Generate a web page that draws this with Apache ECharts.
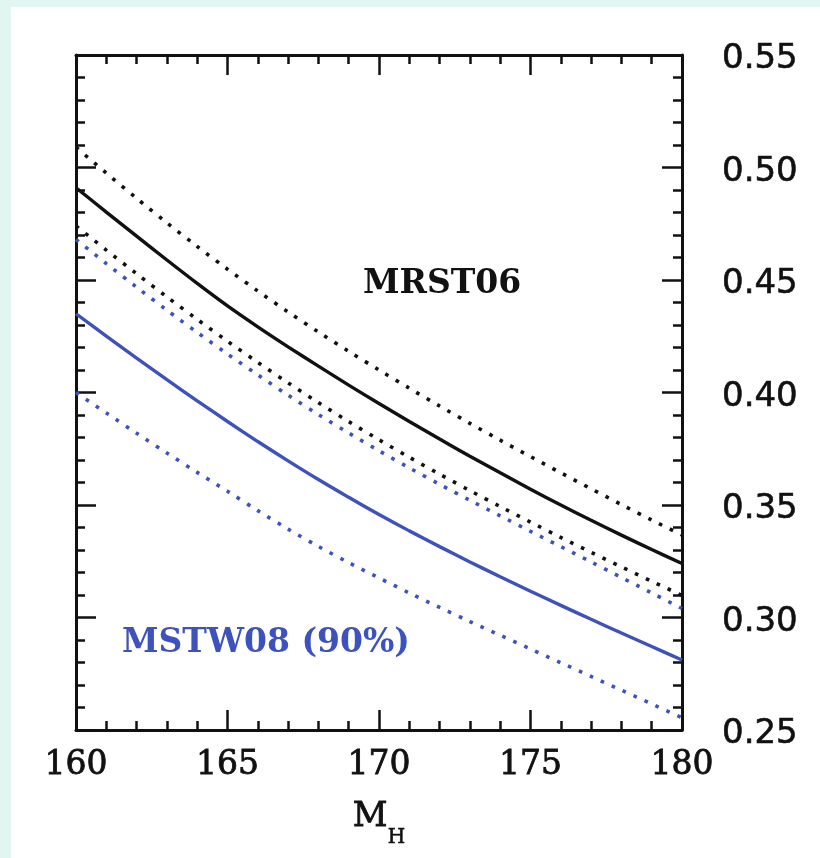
<!DOCTYPE html>
<html>
<head>
<meta charset="utf-8">
<script src="https://cdn.jsdelivr.net/npm/echarts@6/dist/echarts.min.js"></script>
<style>
  html, body { margin: 0; padding: 0; background: #e2f6f1; width: 820px; height: 858px; overflow: hidden; }
  #chart { position: absolute; left: 11px; top: 7px; width: 809px; height: 851px; background: #ffffff; }
</style>
</head>
<body>
<div id="chart"></div>
<script>
// Higgs mass M_H values (GeV)
const massH = [160,161,162,163,164,165,166,167,168,169,170,171,172,173,174,175,176,177,178,179,180];

// MRST06: central (solid) and error band (dotted)
const mrst06Central = [0.491,0.4802,0.4695,0.4589,0.4485,0.4385,0.4292,0.4203,0.4117,0.4033,0.3951,0.3871,0.3793,0.3717,0.3643,0.357,0.350,0.3432,0.3366,0.3302,0.324];
const mrst06Upper   = [0.509,0.4975,0.4863,0.4754,0.4649,0.4548,0.4451,0.4358,0.4269,0.4183,0.410,0.4019,0.394,0.3863,0.3788,0.3715,0.3643,0.3572,0.3502,0.3433,0.3367];
const mrst06Lower   = [0.474,0.4633,0.4528,0.4425,0.4325,0.4228,0.4134,0.4043,0.3955,0.3871,0.379,0.3712,0.3637,0.3564,0.3493,0.3424,0.3356,0.329,0.3225,0.3161,0.3098];

// MSTW08 (90%): central (solid) and error band (dotted)
const mstw08Central = [0.435,0.4251,0.4153,0.4057,0.3963,0.3871,0.3782,0.3696,0.3613,0.3534,0.3458,0.3385,0.3315,0.3247,0.3181,0.3117,0.3054,0.2992,0.2931,0.2871,0.2811];
const mstw08Upper   = [0.468,0.4573,0.4468,0.4366,0.4267,0.4171,0.4078,0.3988,0.3902,0.382,0.3741,0.3665,0.3592,0.3521,0.3452,0.3383,0.3315,0.3247,0.3178,0.3109,0.304];
const mstw08Lower   = [0.400,0.3909,0.3819,0.3731,0.3645,0.3561,0.3475,0.3393,0.3316,0.3244,0.3176,0.3109,0.3045,0.2982,0.2921,0.286,0.2799,0.2738,0.2677,0.2616,0.2555];

// Axis settings
const xMin = 160, xMax = 180, xStep = 5;
const yMin = 0.25, yMax = 0.55, yStep = 0.05;

// Text labels
const labelMRST = 'MRST06';
const labelMSTW = 'MSTW08 (90%)';

const BLACK = '#111111';
const BLUE = '#3d52bc';

function pairs(ys) { return massH.map((x, i) => [x, ys[i]]); }

const chart = echarts.init(document.getElementById('chart'), null, { renderer: 'canvas' });

const frameLine = { show: true, onZero: false, lineStyle: { color: BLACK, width: 3 } };
const majorTick = { show: true, inside: true, length: 20, lineStyle: { color: BLACK, width: 2.5 } };
const minorTick = { show: true, splitNumber: 5, length: 9, lineStyle: { color: BLACK, width: 2.5 } };

function dotted(color) { return { color: color, width: 3.6, type: [3.6, 8.4], cap: 'butt' }; }
function solid(color) { return { color: color, width: 3.4, type: 'solid' }; }

function lineSeries(name, ys, style) {
  return { type: 'line', name: name, data: pairs(ys), showSymbol: false, smooth: 0.3,
           lineStyle: style, z: 3 };
}

const option = {
  animation: false,
  backgroundColor: 'transparent',
  grid: { left: 65, right: 138, top: 48, bottom: 128, containLabel: false },
  xAxis: [
    {
      type: 'value', position: 'bottom', min: xMin, max: xMax, interval: xStep,
      axisLine: frameLine, axisTick: majorTick, minorTick: minorTick,
      splitLine: { show: false }, minorSplitLine: { show: false },
      axisLabel: { show: true, margin: 19, color: BLACK, fontFamily: 'DejaVu Serif', fontSize: 33,
        textBorderColor: BLACK, textBorderWidth: 0.8 },
      name: '{m|M}{h|H}', nameLocation: 'middle', nameGap: 70,
      nameTextStyle: {
        rich: {
          m: { fontFamily: 'DejaVu Serif', fontSize: 34, color: BLACK, verticalAlign: 'top', lineHeight: 36,
               textBorderColor: BLACK, textBorderWidth: 0.8 },
          h: { fontFamily: 'DejaVu Serif', fontSize: 20, color: BLACK, verticalAlign: 'top', lineHeight: 20,
               padding: [28, 0, 0, 0], textBorderColor: BLACK, textBorderWidth: 0.6 }
        }
      }
    },
    {
      type: 'value', position: 'top', min: xMin, max: xMax, interval: xStep,
      axisLine: frameLine, axisTick: majorTick, minorTick: minorTick,
      splitLine: { show: false }, axisLabel: { show: false }
    }
  ],
  yAxis: [
    {
      type: 'value', position: 'left', min: yMin, max: yMax, interval: yStep,
      axisLine: frameLine, axisTick: majorTick, minorTick: minorTick,
      splitLine: { show: false }, axisLabel: { show: false }
    },
    {
      type: 'value', position: 'right', min: yMin, max: yMax, interval: yStep,
      axisLine: frameLine, axisTick: majorTick, minorTick: minorTick,
      splitLine: { show: false },
      axisLabel: { show: true, margin: 40,
        formatter: v => '{t|' + v.toFixed(2) + '}',
        rich: {
          t: { color: BLACK, fontFamily: 'DejaVu Sans', fontSize: 34, padding: [9, 0, 0, 0],
               textBorderColor: BLACK, textBorderWidth: 0.6 }
        }
      }
    }
  ],
  series: [
    lineSeries('MRST06 upper', mrst06Upper, dotted(BLACK)),
    lineSeries('MRST06', mrst06Central, solid(BLACK)),
    lineSeries('MRST06 lower', mrst06Lower, dotted(BLACK)),
    lineSeries('MSTW08 upper', mstw08Upper, dotted(BLUE)),
    lineSeries('MSTW08', mstw08Central, solid(BLUE)),
    lineSeries('MSTW08 lower', mstw08Lower, dotted(BLUE))
  ],
  graphic: [
    { type: 'text', left: 352, top: 261, z: 10,
      style: { text: labelMRST, fill: BLACK, font: 'bold 33px "DejaVu Serif"' } },
    { type: 'text', left: 111, top: 620, z: 10,
      style: { text: labelMSTW, fill: BLUE, font: 'bold 33px "DejaVu Serif"' } }
  ]
};

chart.setOption(option);
</script>
</body>
</html>
